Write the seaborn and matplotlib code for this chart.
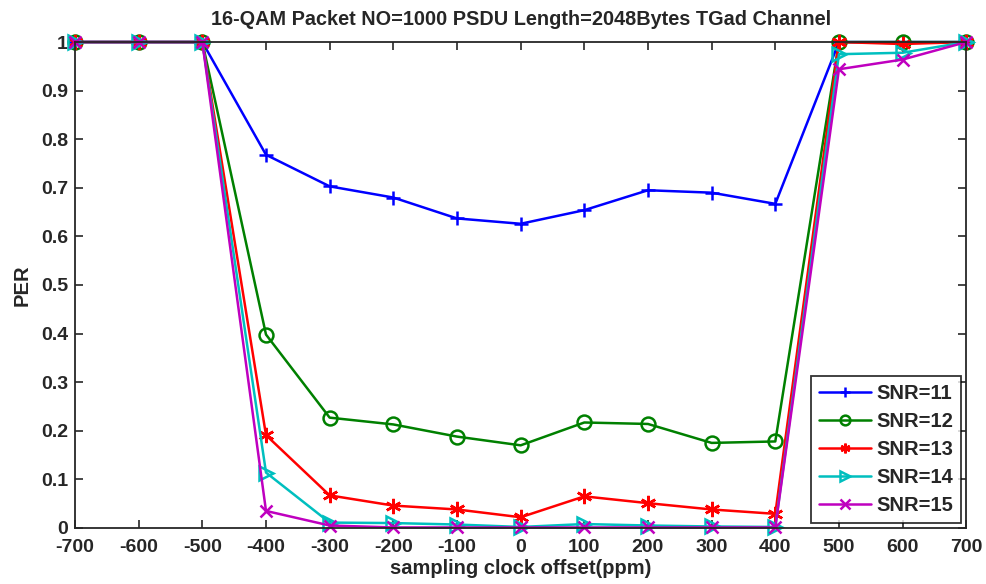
import matplotlib
matplotlib.use("Agg")
import matplotlib.pyplot as plt
import seaborn as sns
import pandas as pd
from matplotlib.ticker import FuncFormatter, MultipleLocator

offsets = [-700, -600, -500, -400, -300, -200, -100, 0, 100, 200, 300, 400, 500, 600, 700]
snr11 = [1, 1, 1, 0.768, 0.703, 0.680, 0.637, 0.626, 0.654, 0.695, 0.690, 0.667, 1, 1, 1]
snr12 = [1, 1, 1, 0.398, 0.227, 0.213, 0.188, 0.170, 0.217, 0.214, 0.175, 0.178, 1, 1, 1]
snr13 = [1, 1, 1, 0.191, 0.067, 0.046, 0.038, 0.022, 0.065, 0.051, 0.038, 0.029, 1, 0.996, 1]
snr14 = [1, 1, 1, 0.114, 0.011, 0.010, 0.007, 0.002, 0.008, 0.005, 0.003, 0.002, 0.975, 0.978, 1]
snr15 = [1, 1, 1, 0.035, 0.005, 0.001, 0.001, 0.001, 0.001, 0.001, 0.001, 0.001, 0.944, 0.964, 1]
labels = ["SNR=11", "SNR=12", "SNR=13", "SNR=14", "SNR=15"]
series = [snr11, snr12, snr13, snr14, snr15]
colors = ["#0000FF", "#008000", "#FF0000", "#00BFBF", "#BF00BF"]
markers = ["+", "o", (6, 2, 0), ">", "x"]
msizes = [10, 10, 11, 10, 8]

sns.set_style("ticks")
plt.rcParams['font.family'] = ['Liberation Sans', 'DejaVu Sans']
plt.rcParams['font.weight'] = 'bold'
plt.rcParams['axes.unicode_minus'] = False

fig = plt.figure(figsize=(9.87, 5.84), dpi=100)
ax = fig.add_axes([0.076, 0.096, 0.903, 0.832])

for lab, vals, c, m, ms in zip(labels, series, colors, markers, msizes):
    df = pd.DataFrame({"offset": offsets, "PER": vals})
    sns.lineplot(data=df, x="offset", y="PER", ax=ax, color=c, marker=m,
                 markersize=ms, linewidth=1.8,
                 markerfacecolor="none",
                 markeredgecolor=c, markeredgewidth=1.8, label=lab,
                 clip_on=False)

ax.set_xlim(-700, 700)
ax.set_ylim(0, 1)
ax.xaxis.set_major_locator(MultipleLocator(100))
ax.yaxis.set_major_locator(MultipleLocator(0.1))
ax.yaxis.set_major_formatter(FuncFormatter(lambda v, p: f"{v:g}"))
ax.tick_params(direction='in', top=True, right=True, length=6, width=1.2,
               labelsize=14)
ax.tick_params(axis='x', pad=8)
ax.tick_params(axis='y', pad=5)
for lbl in ax.get_xticklabels() + ax.get_yticklabels():
    lbl.set_fontweight('bold')
for s in ax.spines.values():
    s.set_linewidth(1.3)
    s.set_visible(True)

ax.set_xlabel("sampling clock offset(ppm)", fontsize=14.5, fontweight='bold', labelpad=2)
ax.set_ylabel("PER", fontsize=14.5, fontweight='bold', labelpad=7)
ax.set_title("16-QAM Packet NO=1000 PSDU Length=2048Bytes TGad Channel",
             fontsize=14.3, fontweight='bold', pad=12)

leg = ax.legend(loc="lower right", frameon=True, fancybox=False,
                edgecolor="black", handlelength=2.6, handletextpad=0.25,
                labelspacing=0.45, borderpad=0.4, borderaxespad=0.25,
                prop={'weight': 'bold', 'size': 14.5})
leg.get_frame().set_linewidth(1.3)
for h in leg.legend_handles:
    h.set_markersize(7)

fig.savefig("out.png", dpi=100)
